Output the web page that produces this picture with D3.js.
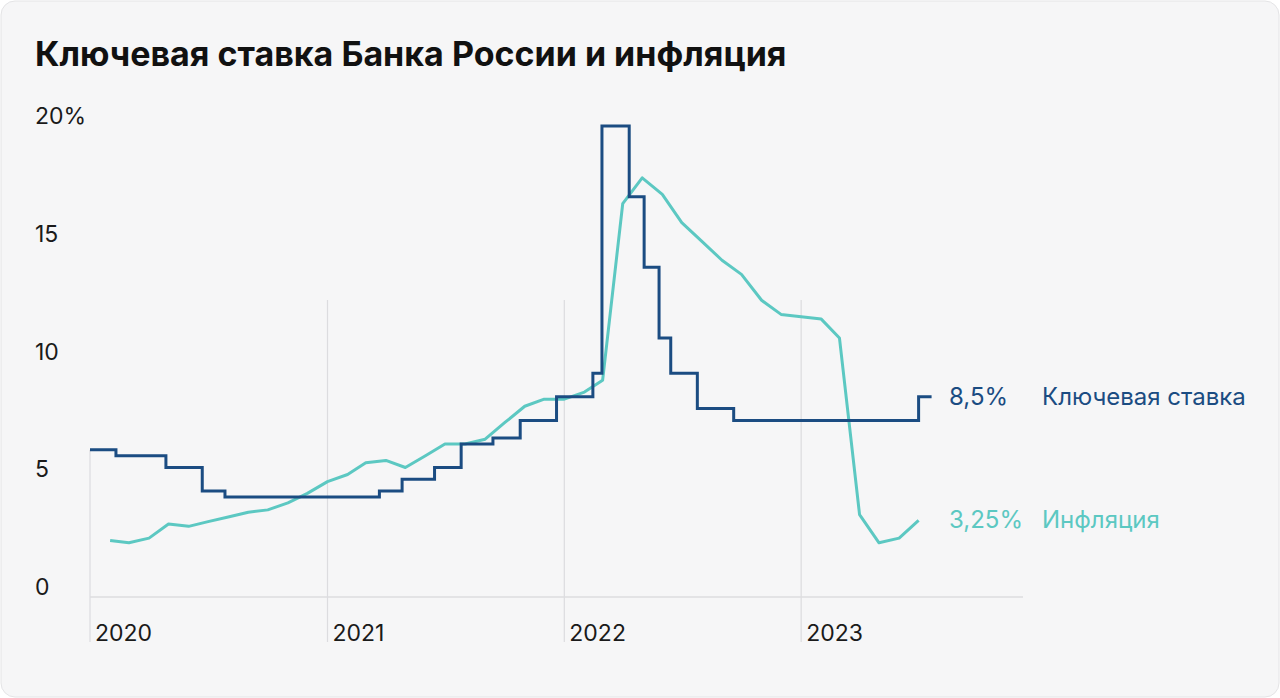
<!DOCTYPE html>
<html><head><meta charset="utf-8">
<script src="https://cdn.jsdelivr.net/npm/d3@7"></script>
<style>
body{margin:0;background:#fff;font-family:Inter,"Noto Sans",sans-serif;}
</style></head>
<body><svg id="chart" width="1280" height="698"></svg>
<script>
// key rate: [date of change, value]
const rateDates = ['2020-01-01','2020-02-10','2020-04-27','2020-06-22','2020-07-27','2021-03-22','2021-04-26','2021-06-15','2021-07-26','2021-09-13','2021-10-25','2021-12-20','2022-02-14','2022-02-28','2022-04-11','2022-05-04','2022-05-27','2022-06-14','2022-07-25','2022-09-19','2023-07-01'];
const rateValues = [6.25,6.0,5.5,4.5,4.25,4.5,5.0,5.5,6.5,6.75,7.5,8.5,9.5,20,17,14,11,9.5,8,7.5,8.5];
const rateEnd = '2023-07-21';
// inflation, monthly, plotted at month end
const inflMonths = ['2020-01','2020-02','2020-03','2020-04','2020-05','2020-06','2020-07','2020-08','2020-09','2020-10','2020-11','2020-12',
  '2021-01','2021-02','2021-03','2021-04','2021-05','2021-06','2021-07','2021-08','2021-09','2021-10','2021-11','2021-12',
  '2022-01','2022-02','2022-03','2022-04','2022-05','2022-06','2022-07','2022-08','2022-09','2022-10','2022-11','2022-12',
  '2023-01','2023-02','2023-03','2023-04','2023-05','2023-06'];
const inflValues = [2.4,2.3,2.5,3.1,3.0,3.2,3.4,3.6,3.7,4.0,4.4,4.9,
  5.2,5.7,5.8,5.5,6.0,6.5,6.5,6.7,7.4,8.1,8.4,8.4,
  8.7,9.2,16.7,17.8,17.1,15.9,15.1,14.3,13.7,12.6,12.0,11.9,
  11.8,11.0,3.5,2.3,2.5,3.25];
const yTicks = [0,5,10,15,20];
const yearTicks = ['2020','2021','2022','2023'];

const svg = d3.select('#chart');
const rateColor = '#1b4c82', inflColor = '#5cc8c2';

svg.append('rect').attr('x',1).attr('y',1).attr('width',1278).attr('height',696)
   .attr('rx',14).attr('fill','#f6f6f7').attr('stroke','#e4e4e6');

svg.append('text').attr('x',35).attr('y',66).attr('font-size',34).attr('font-weight',700)
   .attr('fill','#111').text('Ключевая ставка Банка России и инфляция');

const parse = d3.timeParse('%Y-%m-%d');
const x = d3.scaleTime().domain([parse('2020-01-01'),parse('2024-01-01')]).range([90,1038]);
const y = d3.scaleLinear().domain([0,20]).range([597,126]);

// vertical grid
const g = svg.append('g');
yearTicks.forEach(t => {
  g.append('line').attr('x1',x(parse(t+'-01-01'))).attr('x2',x(parse(t+'-01-01')))
   .attr('y1',t==='2020'?450:300).attr('y2',642).attr('stroke','#dcdcdf').attr('stroke-width',1.2);
  g.append('text').attr('x',x(parse(t+'-01-01'))+5).attr('y',641).attr('font-size',23)
   .attr('fill','#1a1a1a').text(t);
});
g.append('line').attr('x1',90).attr('x2',1023).attr('y1',y(0)).attr('y2',y(0))
 .attr('stroke','#dcdcdf').attr('stroke-width',1.5);
yTicks.forEach(v => {
  g.append('text').attr('x',35).attr('y',y(v)-2).attr('font-size',23).attr('fill','#1a1a1a')
   .text(v===20?'20%':v);
});

// inflation line
const inflData = inflMonths.map((m,i) => {
  const d = d3.timeParse('%Y-%m')(m);
  return {date:d3.timeMonth.offset(d,1), v:inflValues[i]};
});
svg.append('path').datum(inflData)
   .attr('d',d3.line().x(d=>x(d.date)).y(d=>y(d.v)))
   .attr('fill','none').attr('stroke',inflColor).attr('stroke-width',3).attr('stroke-linejoin','round');

// key rate step line
const rateData = rateDates.map((d,i)=>({date:parse(d), v:rateValues[i]}));
rateData.push({date:parse(rateEnd), v:rateValues[rateValues.length-1]});
svg.append('path').datum(rateData)
   .attr('d',d3.line().curve(d3.curveStepAfter).x(d=>x(d.date)).y(d=>y(d.v)))
   .attr('fill','none').attr('stroke',rateColor).attr('stroke-width',3);

// labels
svg.append('text').attr('x',949).attr('y',y(8.5)+8).attr('font-size',24).attr('fill',rateColor).text('8,5%');
svg.append('text').attr('x',1042).attr('y',y(8.5)+8).attr('font-size',24).attr('fill',rateColor).text('Ключевая ставка');
svg.append('text').attr('x',949).attr('y',y(3.25)+8).attr('font-size',24).attr('fill',inflColor).text('3,25%');
svg.append('text').attr('x',1042).attr('y',y(3.25)+8).attr('font-size',24).attr('fill',inflColor).text('Инфляция');
</script></body></html>
